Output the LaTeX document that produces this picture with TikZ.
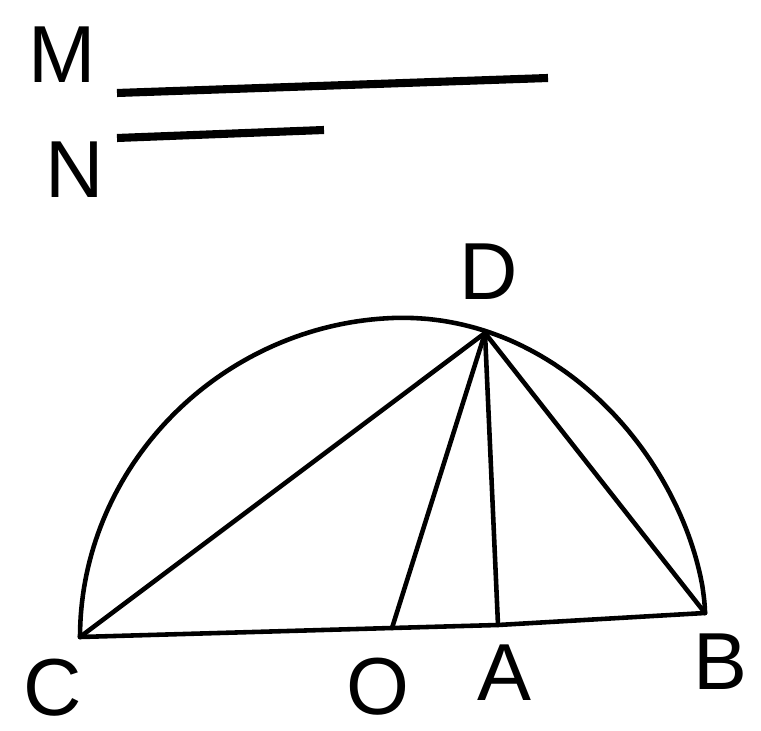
\documentclass[tikz,border=0pt]{standalone}
\usepackage{fontspec}
\setmainfont{Liberation Sans}
\begin{document}
\begin{tikzpicture}[x=0.01cm,y=-0.01cm]
\tikzset{
  geo/.style={line width=1.3pt, line cap=round, line join=round},
  seg/.style={line width=2.3pt},
  lab/.style={font=\fontsize{23}{23}\selectfont, inner sep=0pt}
}
\useasboundingbox[fill=white] (0,0) rectangle (761,731);
% points
\coordinate (C) at (80,637);
\coordinate (O) at (392,628);
\coordinate (A) at (498,625);
\coordinate (B) at (705,613);
\coordinate (D) at (485,333);
\coordinate (M1) at (117,93);
\coordinate (M2) at (548,78);
\coordinate (N1) at (117,138);
\coordinate (N2) at (324,130);
% labels
\node[lab] (lM) at (62,55) {M};
\node[lab] (lN) at (75,170) {N};
\node[lab] (lD) at (489,272) {D};
\node[lab] (lC) at (53,688) {C};
\node[lab] (lO) at (378,687) {O};
\node[lab] (lA) at (504,673) {A};
\node[lab] (lB) at (720,662) {B};
% given segments
\draw[seg] (M1) -- (M2);
\draw[seg] (N1) -- (N2);
% semicircle
\draw[geo] (C)
  -- plot[domain=180:90, samples=70, variable=\t]
     ({392.5+312.5*cos(\t)}, {625-12*cos(\t)-307*sin(\t)})
  -- plot[domain=90:1, samples=70, variable=\t]
     ({392.5+312.5*cos(\t)}, {625-12*cos(\t)-307*pow(sin(\t),1.2)})
  -- (B);
% base
\draw[geo] (C) -- (O) -- (A) -- (B);
% chords
\draw[geo] (D) -- (C);
\draw[geo] (D) -- (O);
\draw[geo] (D) -- (A);
\draw[geo] (D) -- (B);
\end{tikzpicture}
\end{document}
